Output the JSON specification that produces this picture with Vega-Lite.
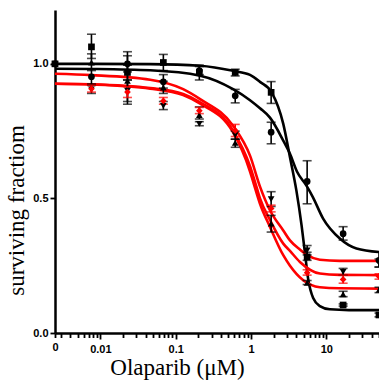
{
  "$schema": "https://vega.github.io/schema/vega-lite/v6.json",
  "width": 324,
  "height": 323,
  "autosize": {"type": "none"},
  "padding": {"left": 55, "top": 10, "right": 0, "bottom": 52},
  "background": "white",
  "config": {"view": {"stroke": null}},
  "datasets": {
    "curves": [
      {"c": "Sq", "x": 0.0025, "y": 1.0}, {"c": "Sq", "x": 0.0076, "y": 1.0}, {"c": "Sq", "x": 0.0459, "y": 0.999}, {"c": "Sq", "x": 0.211, "y": 0.993}, {"c": "Sq", "x": 0.578, "y": 0.974}, {"c": "Sq", "x": 0.97, "y": 0.959}, {"c": "Sq", "x": 1.316, "y": 0.933}, {"c": "Sq", "x": 1.88, "y": 0.894}, {"c": "Sq", "x": 2.68, "y": 0.777}, {"c": "Sq", "x": 3.29, "y": 0.653}, {"c": "Sq", "x": 4.0, "y": 0.53}, {"c": "Sq", "x": 4.69, "y": 0.40}, {"c": "Sq", "x": 5.19, "y": 0.30}, {"c": "Sq", "x": 5.74, "y": 0.20}, {"c": "Sq", "x": 6.68, "y": 0.13}, {"c": "Sq", "x": 8.2, "y": 0.10}, {"c": "Sq", "x": 11.1, "y": 0.088}, {"c": "Sq", "x": 20, "y": 0.085}, {"c": "Sq", "x": 50, "y": 0.085},
      {"c": "Ci", "x": 0.0025, "y": 0.982}, {"c": "Ci", "x": 0.0076, "y": 0.981}, {"c": "Ci", "x": 0.0459, "y": 0.976}, {"c": "Ci", "x": 0.211, "y": 0.956}, {"c": "Ci", "x": 0.578, "y": 0.906}, {"c": "Ci", "x": 0.97, "y": 0.865}, {"c": "Ci", "x": 1.316, "y": 0.835}, {"c": "Ci", "x": 1.785, "y": 0.80}, {"c": "Ci", "x": 2.68, "y": 0.715}, {"c": "Ci", "x": 3.29, "y": 0.666}, {"c": "Ci", "x": 4.07, "y": 0.60}, {"c": "Ci", "x": 5.52, "y": 0.545}, {"c": "Ci", "x": 6.62, "y": 0.505}, {"c": "Ci", "x": 9.06, "y": 0.425}, {"c": "Ci", "x": 15.1, "y": 0.351}, {"c": "Ci", "x": 25.1, "y": 0.314}, {"c": "Ci", "x": 50, "y": 0.301},
      {"c": "R1", "x": 0.0025, "y": 0.963}, {"c": "R1", "x": 0.0076, "y": 0.958}, {"c": "R1", "x": 0.0459, "y": 0.941}, {"c": "R1", "x": 0.1257, "y": 0.906}, {"c": "R1", "x": 0.211, "y": 0.869}, {"c": "R1", "x": 0.578, "y": 0.77}, {"c": "R1", "x": 0.97, "y": 0.659}, {"c": "R1", "x": 1.316, "y": 0.544}, {"c": "R1", "x": 1.785, "y": 0.456}, {"c": "R1", "x": 2.68, "y": 0.381}, {"c": "R1", "x": 3.29, "y": 0.344}, {"c": "R1", "x": 4.46, "y": 0.31}, {"c": "R1", "x": 5.52, "y": 0.29}, {"c": "R1", "x": 8.2, "y": 0.272}, {"c": "R1", "x": 15, "y": 0.268}, {"c": "R1", "x": 50, "y": 0.268},
      {"c": "R2", "x": 0.0025, "y": 0.926}, {"c": "R2", "x": 0.0076, "y": 0.924}, {"c": "R2", "x": 0.0459, "y": 0.91}, {"c": "R2", "x": 0.1257, "y": 0.888}, {"c": "R2", "x": 0.211, "y": 0.857}, {"c": "R2", "x": 0.578, "y": 0.752}, {"c": "R2", "x": 0.97, "y": 0.62}, {"c": "R2", "x": 1.19, "y": 0.54}, {"c": "R2", "x": 1.316, "y": 0.50}, {"c": "R2", "x": 1.785, "y": 0.42}, {"c": "R2", "x": 2.68, "y": 0.332}, {"c": "R2", "x": 3.29, "y": 0.305}, {"c": "R2", "x": 4.46, "y": 0.264}, {"c": "R2", "x": 8.2, "y": 0.221}, {"c": "R2", "x": 15, "y": 0.216}, {"c": "R2", "x": 50, "y": 0.215},
      {"c": "R3", "x": 0.0025, "y": 0.926}, {"c": "R3", "x": 0.0076, "y": 0.923}, {"c": "R3", "x": 0.0459, "y": 0.908}, {"c": "R3", "x": 0.1257, "y": 0.884}, {"c": "R3", "x": 0.211, "y": 0.852}, {"c": "R3", "x": 0.578, "y": 0.745}, {"c": "R3", "x": 0.97, "y": 0.60}, {"c": "R3", "x": 1.073, "y": 0.56}, {"c": "R3", "x": 1.316, "y": 0.48}, {"c": "R3", "x": 1.785, "y": 0.394}, {"c": "R3", "x": 2.68, "y": 0.289}, {"c": "R3", "x": 3.29, "y": 0.25}, {"c": "R3", "x": 4.93, "y": 0.196}, {"c": "R3", "x": 8.2, "y": 0.17}, {"c": "R3", "x": 15, "y": 0.166}, {"c": "R3", "x": 50, "y": 0.165}
    ],
    "pts": [
      {"s": "Up", "x": 0.0025, "y": 1.0}, {"s": "Down", "x": 0.0025, "y": 1.0}, {"s": "X", "x": 0.0025, "y": 1.0}, {"s": "Ci", "x": 0.0025, "y": 1.0}, {"s": "Sq", "x": 0.0025, "y": 1.0},
      {"s": "Sq", "x": 0.00762, "y": 1.063, "lo": 1.02, "hi": 1.11}, {"s": "Up", "x": 0.00762, "y": 1.005, "lo": 0.975, "hi": 1.037}, {"s": "Ci", "x": 0.00762, "y": 0.952, "lo": 0.925, "hi": 0.98}, {"s": "Down", "x": 0.00762, "y": 0.905, "lo": 0.89, "hi": 0.92}, {"s": "X", "x": 0.00762, "y": 0.907, "lo": 0.895, "hi": 0.92},
      {"s": "Ci", "x": 0.0229, "y": 1.0, "lo": 0.97, "hi": 1.045}, {"s": "Sq", "x": 0.0229, "y": 0.968, "lo": 0.94, "hi": 0.995}, {"s": "Up", "x": 0.0229, "y": 0.937, "lo": 0.85, "hi": 1.03}, {"s": "Down", "x": 0.0229, "y": 0.9, "lo": 0.86, "hi": 0.94}, {"s": "X", "x": 0.0229, "y": 0.895, "lo": 0.875, "hi": 0.915},
      {"s": "Sq", "x": 0.0686, "y": 1.005, "lo": 0.975, "hi": 1.035}, {"s": "Ci", "x": 0.0686, "y": 0.933, "lo": 0.91, "hi": 0.96}, {"s": "Up", "x": 0.0686, "y": 0.912, "lo": 0.89, "hi": 0.935}, {"s": "Down", "x": 0.0686, "y": 0.844, "lo": 0.83, "hi": 0.86}, {"s": "X", "x": 0.0686, "y": 0.862, "lo": 0.85, "hi": 0.875},
      {"s": "Ci", "x": 0.206, "y": 0.975, "lo": 0.96, "hi": 0.99}, {"s": "Sq", "x": 0.206, "y": 0.968, "lo": 0.94, "hi": 0.995}, {"s": "Up", "x": 0.206, "y": 0.81, "lo": 0.795, "hi": 0.84}, {"s": "Down", "x": 0.206, "y": 0.777, "lo": 0.77, "hi": 0.785}, {"s": "X", "x": 0.206, "y": 0.826, "lo": 0.815, "hi": 0.838},
      {"s": "Sq", "x": 0.617, "y": 0.968, "lo": 0.955, "hi": 0.98}, {"s": "Ci", "x": 0.617, "y": 0.881, "lo": 0.855, "hi": 0.905}, {"s": "Down", "x": 0.617, "y": 0.735, "lo": 0.72, "hi": 0.75}, {"s": "Up", "x": 0.617, "y": 0.706, "lo": 0.69, "hi": 0.72}, {"s": "X", "x": 0.617, "y": 0.752, "lo": 0.73, "hi": 0.775},
      {"s": "Sq", "x": 1.85, "y": 0.894, "lo": 0.853, "hi": 0.934}, {"s": "Ci", "x": 1.85, "y": 0.746, "lo": 0.703, "hi": 0.783}, {"s": "Down", "x": 1.85, "y": 0.497, "lo": 0.47, "hi": 0.525}, {"s": "Up", "x": 1.85, "y": 0.406, "lo": 0.375, "hi": 0.437}, {"s": "X", "x": 1.85, "y": 0.463, "lo": 0.45, "hi": 0.475},
      {"s": "Ci", "x": 5.56, "y": 0.563, "lo": 0.48, "hi": 0.64}, {"s": "Down", "x": 5.56, "y": 0.307, "lo": 0.29, "hi": 0.325}, {"s": "Sq", "x": 5.56, "y": 0.283, "lo": 0.27, "hi": 0.30}, {"s": "Up", "x": 5.56, "y": 0.186, "lo": 0.18, "hi": 0.195}, {"s": "X", "x": 5.56, "y": 0.224, "lo": 0.215, "hi": 0.235},
      {"s": "Ci", "x": 16.7, "y": 0.369, "lo": 0.345, "hi": 0.395}, {"s": "Down", "x": 16.7, "y": 0.227, "lo": 0.215, "hi": 0.24}, {"s": "Up", "x": 16.7, "y": 0.144, "lo": 0.135, "hi": 0.155}, {"s": "Sq", "x": 16.7, "y": 0.104, "lo": 0.10, "hi": 0.108}, {"s": "X", "x": 16.7, "y": 0.199, "lo": 0.185, "hi": 0.215},
      {"s": "Ci", "x": 50, "y": 0.27, "lo": 0.245, "hi": 0.30}, {"s": "Down", "x": 50, "y": 0.26, "lo": 0.245, "hi": 0.275}, {"s": "Up", "x": 50, "y": 0.16, "lo": 0.15, "hi": 0.17}, {"s": "Sq", "x": 50, "y": 0.067, "lo": 0.06, "hi": 0.074}, {"s": "X", "x": 50, "y": 0.21, "lo": 0.20, "hi": 0.22}
    ]
  },
  "encoding": {
    "x": {
      "type": "quantitative",
      "scale": {"type": "log", "domain": [0.0025, 50], "nice": false},
      "axis": {
        "title": "Olaparib (μM)",
        "titleFont": "Liberation Serif", "titleFontSize": 23, "titleFontWeight": "normal", "titleColor": "black",
        "titleX": 122, "titlePadding": 2,
        "values": [0.0025, 0.003, 0.004, 0.005, 0.006, 0.007, 0.008, 0.009, 0.01, 0.02, 0.03, 0.04, 0.05, 0.06, 0.07, 0.08, 0.09, 0.1, 0.2, 0.3, 0.4, 0.5, 0.6, 0.7, 0.8, 0.9, 1, 2, 3, 4, 5, 6, 7, 8, 9, 10, 20, 30, 40, 50],
        "labelExpr": "datum.value < 0.0028 ? '0' : (indexof([0.01, 0.1, 1, 10], datum.value) >= 0 ? format(datum.value, '~g') : '')",
        "labelOverlap": false, "labelFlush": false,
        "labelFont": "Liberation Sans", "labelFontWeight": "bold", "labelFontSize": 11, "labelColor": "black", "labelPadding": 4,
        "domainColor": "black", "domainWidth": 2.5,
        "tickColor": "black", "tickWidth": 1.8,
        "tickSize": {"condition": {"test": "indexof([0.01, 0.1, 1, 10], datum.value) >= 0", "value": 6}, "value": 4.5},
        "grid": false
      }
    },
    "y": {
      "type": "quantitative",
      "scale": {"domain": [0, 1.2], "nice": false, "zero": false},
      "axis": {
        "title": "surviving fractiom",
        "titleFont": "Liberation Serif", "titleFontSize": 23, "titleFontWeight": "normal", "titleColor": "black",
        "titleY": 200, "titleX": -27,
        "values": [0, 0.5, 1.0], "format": ".1f",
        "labelFont": "Liberation Sans", "labelFontWeight": "bold", "labelFontSize": 11, "labelColor": "black", "labelPadding": 2,
        "domainColor": "black", "domainWidth": 2.5,
        "tickColor": "black", "tickWidth": 1.8, "tickSize": 5,
        "grid": false
      }
    }
  },
  "layer": [
    {
      "mark": {"type": "rule", "strokeDash": [1.2, 2.2], "strokeWidth": 1.2, "color": "black"},
      "encoding": {"y": {"datum": 0.5}, "x": null}
    },
    {
      "data": {"name": "curves"},
      "mark": {"type": "line", "interpolate": "monotone", "strokeWidth": 2.6},
      "encoding": {
        "x": {"field": "x"},
        "y": {"field": "y"},
        "detail": {"field": "c"},
        "color": {"field": "c", "type": "nominal", "scale": {"domain": ["Sq", "Ci", "R1", "R2", "R3"], "range": ["#000000", "#000000", "#ff0000", "#ff0000", "#ff0000"]}, "legend": null}
      }
    },
    {
      "data": {"name": "pts"},
      "transform": [{"filter": "datum.lo != null"}],
      "mark": {"type": "rule", "strokeWidth": 1.6},
      "encoding": {
        "x": {"field": "x"},
        "y": {"field": "lo"},
        "y2": {"field": "hi"},
        "color": {"field": "s", "type": "nominal", "scale": {"domain": ["Sq", "Ci", "Up", "Down", "X"], "range": ["#000000", "#000000", "#000000", "#000000", "#ff0000"]}, "legend": null}
      }
    },
    {
      "data": {"name": "pts"},
      "transform": [{"filter": "datum.lo != null"}],
      "mark": {"type": "tick", "orient": "horizontal", "size": 9, "thickness": 1.6},
      "encoding": {
        "x": {"field": "x"},
        "y": {"field": "lo"},
        "color": {"field": "s", "type": "nominal", "legend": null}
      }
    },
    {
      "data": {"name": "pts"},
      "transform": [{"filter": "datum.lo != null"}],
      "mark": {"type": "tick", "orient": "horizontal", "size": 9, "thickness": 1.6},
      "encoding": {
        "x": {"field": "x"},
        "y": {"field": "hi"},
        "color": {"field": "s", "type": "nominal", "legend": null}
      }
    },
    {
      "data": {"name": "pts"},
      "mark": {"type": "point", "filled": true, "opacity": 1, "size": 45},
      "encoding": {
        "x": {"field": "x"},
        "y": {"field": "y"},
        "shape": {"field": "s", "type": "nominal", "scale": {"domain": ["Sq", "Ci", "Up", "Down", "X"], "range": ["square", "circle", "triangle-up", "triangle-down", "diamond"]}, "legend": null},
        "color": {"field": "s", "type": "nominal", "legend": null}
      }
    }
  ]
}
